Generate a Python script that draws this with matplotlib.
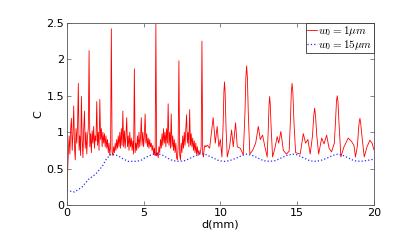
import numpy as np
import matplotlib
matplotlib.use("Agg")
import matplotlib.pyplot as plt

plt.rcParams['mathtext.fontset'] = 'cm'

# red curve, w0 = 1um: dense part sampled every 0.05 mm from 0 to 9 mm
d_dense = np.round(np.arange(0, 9.001, 0.05), 2)
c_dense = [
    0.05, 0.45, 0.72, 0.95, 0.70, 1.05, 1.19, 0.75, 0.98, 1.36,
    0.80, 0.62, 1.05, 0.85, 1.10, 1.67, 0.75, 0.95, 0.68, 1.49,
    0.90, 0.65, 1.05, 1.29, 0.78, 1.00, 0.70, 0.95, 1.05, 2.12,
    0.80, 0.98, 0.72, 1.02, 0.85, 1.08, 0.78, 0.95, 0.88, 1.42,
    0.82, 1.00, 0.75, 1.45, 0.90, 1.05, 0.80, 1.00, 0.85, 0.98,
    0.80, 0.95, 0.78, 0.90, 0.72, 0.85, 0.68, 0.80, 2.42, 0.72,
    0.68, 0.80, 0.72, 0.85, 0.75, 0.90, 0.78, 0.95, 0.80, 1.00,
    0.78, 1.05, 0.82, 1.29, 0.80, 1.02, 0.78, 0.95, 1.20, 0.80,
    0.95, 0.75, 1.00, 0.80, 0.92, 0.75, 0.88, 0.70, 1.87, 0.72,
    0.85, 0.75, 0.95, 0.78, 1.00, 0.80, 0.92, 1.20, 0.82, 1.00,
    0.80, 0.95, 1.25, 0.85, 0.98, 0.80, 0.92, 0.78, 0.90, 0.80,
    0.85, 0.75, 0.82, 0.70, 0.78, 0.68, 2.48, 0.68, 0.72, 0.65,
    0.80, 0.72, 0.90, 0.78, 0.98, 0.82, 1.05, 0.85, 1.00, 0.80,
    1.05, 0.85, 1.39, 0.82, 1.00, 0.78, 1.25, 0.80, 0.95, 0.75,
    0.90, 0.72, 0.85, 0.65, 0.62, 0.80, 1.98, 0.70, 0.62, 0.85,
    0.72, 0.95, 0.78, 1.00, 0.82, 1.05, 1.24, 0.85, 1.00, 0.80,
    1.31, 0.82, 0.98, 0.80, 0.92, 0.75, 0.88, 0.72, 0.85, 0.70,
    0.80, 0.68, 0.75, 0.70, 0.72, 0.80, 2.25, 0.70, 0.66, 0.78,
    0.82,
]

# red curve beyond 9 mm: (d, C) points
red_tail = [
    (9.05, 0.80), (9.16, 0.82), (9.30, 0.78), (9.42, 1.00), (9.53, 1.20),
    (9.67, 0.85), (9.79, 1.08), (9.90, 0.80), (10.00, 0.90), (10.10, 0.66),
    (10.18, 1.10), (10.23, 1.55), (10.27, 1.69), (10.31, 1.55), (10.37, 1.05),
    (10.45, 0.66), (10.60, 0.80), (10.73, 1.03), (10.84, 0.80), (10.99, 1.13),
    (11.10, 0.80), (11.30, 0.78), (11.49, 0.69), (11.60, 1.25), (11.66, 1.75),
    (11.71, 1.91), (11.76, 1.75), (11.82, 1.25), (11.92, 0.70), (12.10, 0.75),
    (12.30, 0.85), (12.47, 1.08), (12.60, 0.90), (12.75, 0.96), (12.90, 0.80),
    (13.05, 0.66), (13.12, 1.05), (13.17, 1.38), (13.21, 1.49), (13.25, 1.38),
    (13.31, 1.05), (13.40, 0.66), (13.55, 0.78), (13.70, 0.94), (13.80, 0.85),
    (13.94, 1.01), (14.10, 0.75), (14.30, 0.70), (14.48, 0.74), (14.56, 1.15),
    (14.62, 1.55), (14.67, 1.67), (14.72, 1.55), (14.79, 1.15), (14.90, 0.72),
    (15.20, 0.70), (15.40, 0.98), (15.55, 0.85), (15.70, 0.90), (15.85, 0.70),
    (16.00, 0.95), (16.08, 1.22), (16.14, 1.33), (16.20, 1.22), (16.28, 0.95),
    (16.40, 0.70), (16.60, 0.92), (16.75, 0.84), (16.92, 0.96), (17.08, 0.78),
    (17.24, 0.73), (17.42, 0.85), (17.50, 1.15), (17.56, 1.42), (17.61, 1.50),
    (17.66, 1.42), (17.72, 1.15), (17.85, 0.66), (18.05, 0.80), (18.33, 0.92),
    (18.55, 0.87), (18.70, 0.82), (18.80, 0.66), (18.93, 0.82), (19.00, 1.05),
    (19.05, 1.15), (19.09, 1.19), (19.14, 1.12), (19.22, 0.95), (19.37, 0.66),
    (19.55, 0.80), (19.74, 0.89), (19.88, 0.85), (20.00, 0.76),
]

# blue curve, w0 = 15um
d_blue = [0, 0.5, 1.0, 1.4, 1.9, 2.3, 2.6, 2.9, 3.3, 3.7, 4.0, 4.4, 4.8, 5.1,
          5.5, 5.85, 6.2, 6.6, 6.9, 7.3, 7.7, 8.0, 8.4, 8.8, 9.1, 9.5, 9.9,
          10.25, 10.6, 11.0, 11.4, 11.7, 12.1, 12.5, 12.8, 13.2, 13.6, 13.9,
          14.3, 14.7, 15.0, 15.4, 15.8, 16.1, 16.5, 16.9, 17.3, 17.65, 18.0,
          18.4, 18.7, 19.1, 19.5, 20.0]
c_blue = [0.20, 0.18, 0.25, 0.35, 0.43, 0.53, 0.64, 0.70, 0.68, 0.63, 0.60,
          0.60, 0.61, 0.65, 0.69, 0.71, 0.69, 0.64, 0.61, 0.60, 0.61, 0.64,
          0.68, 0.71, 0.69, 0.65, 0.61, 0.60, 0.61, 0.64, 0.68, 0.70, 0.68,
          0.64, 0.61, 0.60, 0.61, 0.64, 0.68, 0.70, 0.69, 0.65, 0.61, 0.60,
          0.61, 0.64, 0.68, 0.70, 0.68, 0.64, 0.61, 0.60, 0.61, 0.63]

d_red = np.concatenate([d_dense, [p[0] for p in red_tail]])
c_red = np.concatenate([c_dense, [p[1] for p in red_tail]])

fig = plt.figure(figsize=(4.15, 2.41), dpi=100)
ax = fig.add_axes([0.161, 0.149, 0.740, 0.756])

ax.plot(d_red, c_red, color='red', lw=0.6, label=r'$w_0=1\mu m$')
ax.plot(d_blue, c_blue, color='#2a2aff', lw=0.9, ls=':', label=r'$w_0=15\mu m$')

ax.set_xlim(0, 20)
ax.set_ylim(0, 2.5)
ax.set_xticks([0, 5, 10, 15, 20])
ax.set_yticks([0, 0.5, 1, 1.5, 2, 2.5])
ax.set_yticklabels(['0', '0.5', '1', '1.5', '2', '2.5'])
ax.tick_params(direction='in', top=True, right=True, labelsize=8,
               length=3, width=0.5, color='#555555', pad=2)
for s in ax.spines.values():
    s.set_linewidth(0.6)
    s.set_color('#555555')
ax.set_xlabel('d(mm)', fontsize=8, labelpad=1)
ax.set_ylabel('C', fontsize=8, labelpad=2)

leg = ax.legend(loc='upper right', fontsize=8, handlelength=0.9,
                handletextpad=0.15, borderpad=0.1, labelspacing=0.0,
                borderaxespad=0.0, fancybox=False, framealpha=1)
leg.get_frame().set_edgecolor('#333333')
leg.get_frame().set_linewidth(0.6)

fig.savefig('out.png', dpi=100)
